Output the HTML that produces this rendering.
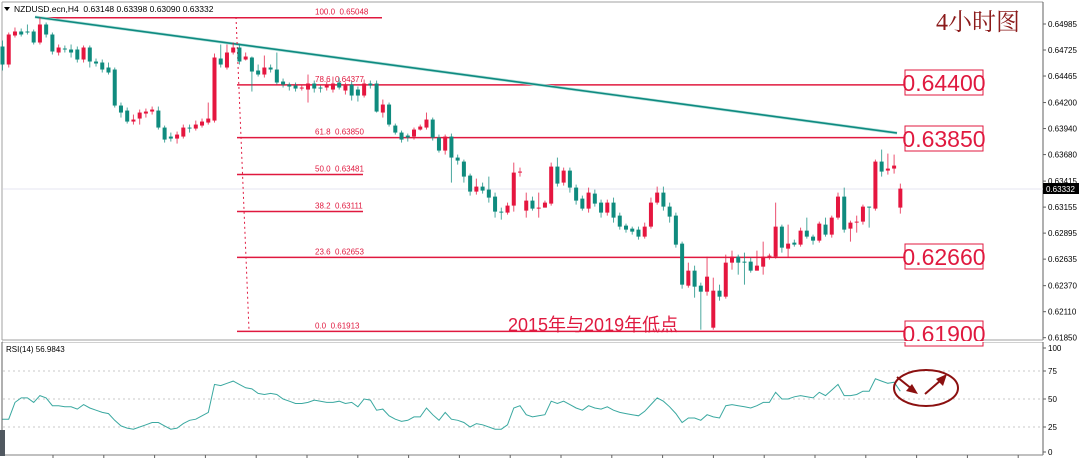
<!DOCTYPE html>
<html><head><meta charset="utf-8">
<style>
html,body{margin:0;padding:0;background:#fff;width:1080px;height:458px;overflow:hidden}
svg{display:block}
text{font-family:"Liberation Sans","Noto Sans CJK SC",sans-serif}
</style></head>
<body>
<svg id="chart" width="1080" height="458" viewBox="0 0 1080 458" xmlns="http://www.w3.org/2000/svg">
  <rect x="0" y="0" width="1080" height="458" fill="#fff"/>
  <g>
    <line x1="2" y1="2" x2="1043" y2="2" stroke="#a0a0a0"/>
    <line x1="2" y1="2" x2="2" y2="340" stroke="#a0a0a0"/>
    <line x1="1043" y1="2" x2="1043" y2="340" stroke="#606060"/>
    <line x1="2" y1="340" x2="1043" y2="340" stroke="#a0a0a0"/>
  </g>
  <g>
    <line x1="2" y1="342" x2="1043" y2="342" stroke="#a0a0a0"/>
    <line x1="2" y1="342" x2="2" y2="455" stroke="#606060"/>
    <line x1="1043" y1="342" x2="1043" y2="455" stroke="#606060"/>
    <line x1="2" y1="455" x2="1043" y2="455" stroke="#808080"/>
  </g>
  <rect x="0" y="430" width="5" height="26" fill="#505860"/>
  <line x1="3" y1="189" x2="1043" y2="189" stroke="#e4e4f0" stroke-width="1"/>
  <g id="fib"></g>
  <line x1="35" y1="17" x2="897" y2="133" stroke="#b5e0db" stroke-width="3"/>
  <line x1="35" y1="17" x2="897" y2="133" stroke="#0e8a80" stroke-width="1.6"/>
  <line x1="236" y1="17" x2="249" y2="330" stroke="#e0193f" stroke-width="1" stroke-dasharray="2,3"/>
  <g id="candles"></g>
  <g id="yaxis"></g>
  <g id="rsi"></g>
  <g id="xticks"></g>

  <g>
    <polygon points="4,7 10,7 7,11" fill="#000"/>
    <text x="14" y="12" font-size="8.5" fill="#000">NZDUSD.ecn,H4&#160; 0.63148 0.63398 0.63090 0.63332</text>
  </g>
  <text x="936" y="30" font-size="24" fill="#8b1a1a" style="font-family:'Liberation Serif','Noto Serif CJK SC',serif">4小时图</text>
  <text x="508" y="331" font-size="18" fill="#e0193f">2015年与2019年低点</text>

  <g>
    <rect x="905" y="70" width="78" height="25" fill="#fff" stroke="#e0193f"/>
    <text x="944" y="91" font-size="23" fill="#e0193f" text-anchor="middle">0.64400</text>
  </g>
  <g>
    <rect x="905" y="126" width="78" height="25" fill="#fff" stroke="#e0193f"/>
    <text x="944" y="147" font-size="23" fill="#e0193f" text-anchor="middle">0.63850</text>
  </g>
  <g>
    <rect x="905" y="244" width="78" height="25" fill="#fff" stroke="#e0193f"/>
    <text x="944" y="265" font-size="23" fill="#e0193f" text-anchor="middle">0.62660</text>
  </g>
  <g>
    <rect x="905" y="321" width="78" height="25" fill="#fff" stroke="#e0193f"/>
    <text x="944" y="342" font-size="23" fill="#e0193f" text-anchor="middle">0.61900</text>
  </g>
  <rect x="3" y="341" width="1040" height="1" fill="#fff"/>

  <g>
    <rect x="1043" y="183" width="36" height="11" fill="#000"/>
    <text x="1046" y="192" font-size="8" fill="#fff">0.63332</text>
  </g>
  <text x="6" y="352" font-size="8" fill="#000">RSI(14) 56.9843</text>

  <g>
    <ellipse cx="926" cy="388" rx="32" ry="18" fill="none" stroke="#8b1010" stroke-width="2"/>
    <line x1="897" y1="377" x2="912" y2="389" stroke="#8b1010" stroke-width="2"/>
    <polygon points="918,394 906,391 912,384" fill="#8b1010"/>
    <line x1="925" y1="394" x2="941" y2="380" stroke="#8b1010" stroke-width="2"/>
    <polygon points="947,374 943,386 936,379" fill="#8b1010"/>
  </g>
</svg>
<script>
// prices in pips (price x 10000)
var opens = [6476,6458,6487,6491,6491,6491,6480,6498,6488,6470,6474,6473,6473,6463,6475,6461,6460,6455,6453,6417,6412,6401,6404,6409,6411,6412,6395,6386,6384,6386,6395,6394,6397,6400,6402,6464,6455,6470,6475,6463,6465,6452,6448,6455,6453,6441,6438,6437,6434,6433,6439,6435,6435,6433,6440,6432,6438,6433,6427,6439,6439,6410,6418,6397,6390,6387,6386,6393,6395,6403,6385,6372,6386,6365,6361,6347,6331,6336,6333,6326,6311,6310,6317,6350,6312,6322,6314,6315,6319,6356,6340,6352,6335,6324,6314,6329,6320,6310,6320,6307,6297,6294,6293,6286,6296,6320,6330,6316,6307,6279,6237,6252,6237,6231,6195,6232,6226,6260,6266,6261,6261,6252,6256,6266,6266,6296,6274,6280,6278,6292,6286,6282,6298,6288,6305,6326,6294,6300,6301,6316,6314,6361,6352,6354,6315];
var closes = [6458,6488,6491,6488,6490,6480,6498,6488,6471,6475,6473,6470,6463,6475,6461,6459,6453,6450,6417,6410,6401,6403,6410,6411,6413,6395,6383,6384,6388,6395,6394,6398,6401,6404,6465,6458,6470,6475,6461,6466,6451,6448,6455,6453,6440,6438,6436,6434,6435,6439,6434,6434,6438,6439,6435,6437,6427,6427,6439,6437,6411,6418,6398,6390,6383,6385,6393,6396,6403,6385,6372,6386,6365,6362,6346,6331,6336,6332,6325,6311,6310,6317,6350,6351,6322,6314,6315,6320,6356,6339,6352,6335,6322,6314,6330,6319,6310,6320,6305,6296,6293,6291,6286,6296,6320,6330,6316,6306,6278,6238,6252,6236,6231,6246,6232,6226,6260,6266,6260,6260,6252,6257,6266,6267,6296,6275,6279,6278,6292,6286,6282,6299,6288,6305,6326,6293,6300,6301,6316,6315,6361,6351,6354,6357,6334];
var highs = [6482,6490,6495,6494,6498,6493,6505,6500,6490,6478,6477,6478,6476,6477,6477,6464,6463,6460,6455,6420,6415,6408,6413,6414,6416,6416,6397,6390,6391,6398,6398,6402,6404,6420,6469,6478,6478,6480,6478,6470,6466,6458,6467,6458,6470,6444,6440,6440,6437,6448,6442,6437,6441,6446,6445,6440,6441,6436,6443,6442,6442,6423,6420,6399,6392,6389,6395,6398,6410,6405,6388,6388,6389,6368,6363,6349,6344,6340,6346,6330,6315,6320,6360,6355,6330,6326,6330,6322,6360,6365,6355,6355,6338,6327,6335,6333,6323,6323,6325,6310,6299,6296,6296,6300,6325,6336,6336,6320,6310,6281,6260,6257,6240,6266,6245,6238,6268,6272,6268,6270,6265,6272,6281,6269,6320,6298,6298,6283,6295,6305,6288,6301,6305,6307,6330,6335,6302,6307,6318,6316,6363,6373,6369,6368,6339];
var lows = [6452,6455,6485,6486,6488,6478,6478,6485,6468,6467,6470,6465,6460,6460,6455,6456,6450,6448,6415,6405,6399,6398,6398,6405,6408,6393,6380,6381,6379,6384,6390,6392,6395,6398,6400,6455,6453,6468,6458,6462,6431,6446,6445,6450,6438,6435,6432,6431,6432,6420,6430,6430,6432,6430,6433,6428,6422,6421,6425,6434,6410,6405,6396,6388,6380,6381,6383,6392,6393,6382,6370,6368,6340,6358,6340,6327,6328,6329,6320,6305,6303,6308,6311,6346,6305,6312,6305,6316,6317,6336,6337,6330,6318,6312,6310,6316,6305,6307,6300,6293,6290,6288,6283,6284,6294,6318,6312,6300,6275,6234,6235,6225,6193,6227,6193,6222,6224,6253,6248,6238,6250,6253,6248,6263,6264,6270,6265,6276,6276,6284,6278,6280,6286,6285,6303,6290,6281,6290,6298,6295,6312,6346,6348,6349,6309];
var rsiValues = [32,32,47,51,51,47,53,51,44,44,43,43,41,45,42,40,38,37,31,26,24,23,25,27,29,29,26,23,24,28,31,32,35,38,63,62,64,66,63,60,59,55,54,55,54,50,48,46,46,47,49,48,47,47,48,46,47,43,50,49,40,41,35,32,30,31,34,34,42,36,31,38,32,31,29,25,28,27,25,23,23,27,42,44,36,34,35,36,48,46,48,45,42,40,44,42,41,43,40,38,37,36,35,39,45,51,48,43,37,29,33,33,31,36,34,33,44,45,44,43,42,44,47,47,56,50,50,52,53,52,51,56,53,58,63,53,53,54,57,57,68,66,64,65,57];
var priceTicks = ["0.64985","0.64725","0.64465","0.64200","0.63940","0.63680","0.63415","0.63155","0.62895","0.62635","0.62370","0.62110","0.61850"];
var rsiTicks = [100,75,50,25,0];
var rsiLevels = [75,50,25];
var fibLevels = ["100.0","78.6","61.8","50.0","38.2","23.6","0.0"];
var fibPrices = [0.65048,0.64377,0.63850,0.63481,0.63111,0.62653,0.61913];

var NS = "http://www.w3.org/2000/svg";
function mk(tag, attrs, parent){var e=document.createElementNS(NS,tag);for(var k in attrs)e.setAttribute(k,attrs[k]);parent.appendChild(e);return e;}
function xS(i){return 2.5 + i*6.235;}
function yP(p){return 24 + (0.64985 - p)*10006;}
function yR(v){return 399 - (v-50)*1.12;}

var ya = document.getElementById('yaxis');
priceTicks.forEach(function(t){
  var y = yP(parseFloat(t));
  var tk = mk('line',{x1:1043,y1:y,x2:1046,y2:y,stroke:'#606060'},ya);
  
  
  var tx = mk('text',{x:1048,y:y+3,'font-size':8,fill:'#000'},ya);
  tx.textContent = t;
  
  
});

var fg = document.getElementById('fib');
fibPrices.forEach(function(p,k){
  var y = yP(p);
  var x1 = k===0 ? 35 : 237;
  var x2 = (k===0) ? 382 : ((k===3||k===4) ? 363 : 905);
  var ln = mk('line',{x1:x1,y1:y,x2:x2,y2:y,stroke:'#e0193f','stroke-width':1.5},fg);
  
  
  var tx = mk('text',{x:315,y:y-3,'font-size':8,fill:'#e0193f'},fg);
  tx.textContent = fibLevels[k] + '\u00a0\u00a0' + p.toFixed(5);
  
  
});

var cg = document.getElementById('candles');
for (var i=0;i<opens.length;i++){
  var o=opens[i]/10000, c=closes[i]/10000;
  var h=Math.max(highs[i]/10000,o,c), l=Math.min(lows[i]/10000,o,c);
  var up = c>=o;
  var col = up ? '#e5163f' : '#0f8b7e';
  var x = xS(i);
  var w = mk('line',{x1:x,y1:yP(h),x2:x,y2:yP(l),stroke:col,'stroke-width':1,opacity:0.75},cg);
  
  
  var yt=yP(Math.max(o,c)), yb=yP(Math.min(o,c));
  var b = mk('rect',{x:x-2,y:yt,width:4,height:Math.max(1,yb-yt),fill:col},cg);
  
  
}

var rg = document.getElementById('rsi');
rsiLevels.forEach(function(v){
  var l = mk('line',{x1:3,y1:yR(v),x2:1043,y2:yR(v),stroke:'#c8c8c8','stroke-dasharray':'2,3'},rg);
  
  
});
rsiTicks.forEach(function(v){
  var y = Math.min(452, Math.max(348, yR(v)));
  var t = mk('text',{x:1048,y:y+3,'font-size':8,fill:'#000'},rg);
  t.textContent = v;
  
  
  var tk = mk('line',{x1:1043,y1:y,x2:1046,y2:y,stroke:'#606060'},rg);
  
  
});
var pts = rsiValues.map(function(v,i){return xS(i).toFixed(1)+','+yR(v).toFixed(1);}).join(' ');
var pl = mk('polyline',{points:pts,fill:'none',stroke:'#3aa8a0','stroke-width':1},rg);



var xg = document.getElementById('xticks');
for (var k=0;k<21;k++){
  var xx = 53 + k*50.8;
  if (xx>1040) break;
  var t = mk('line',{x1:xx,y1:455,x2:xx,y2:458,stroke:'#606060'},xg);
  
  
}
</script>
</body></html>
